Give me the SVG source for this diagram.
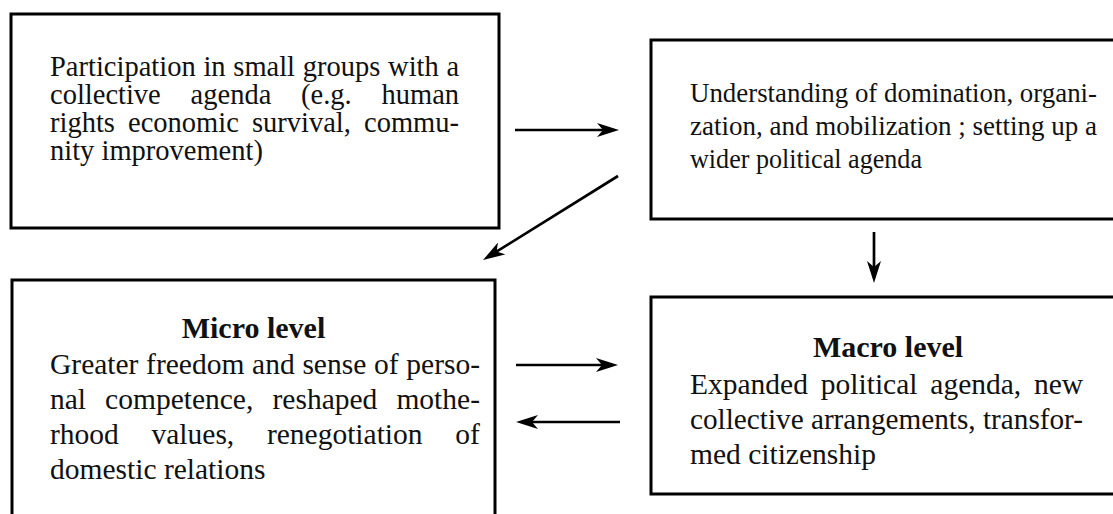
<svg xmlns="http://www.w3.org/2000/svg" width="1113" height="514" viewBox="0 0 1113 514">
<style>
.box{fill:#fff;stroke:#000;stroke-width:3}
.t{font-family:"Liberation Serif","Times New Roman",serif;fill:#111;font-size:29.5px}
.t1{font-size:28.5px}
.t2{font-size:27.5px}
.b{font-weight:bold;font-size:30px;text-anchor:middle}
.c{stroke:#000;stroke-width:2.7;fill:none;marker-end:url(#ah)}
</style>
<defs>
<marker id="ah" markerUnits="userSpaceOnUse" markerWidth="22" markerHeight="14" refX="10" refY="7" orient="auto">
<path d="M0,0 L22,7 L0,14 L6,7 Z" fill="#000"/>
</marker>
</defs>
<rect width="1113" height="514" fill="#fff"/>
<g id="n1">
<rect class="box" x="11" y="14" width="488" height="214"/>
<text class="t t1" y="76"><tspan x="50">Participation</tspan><tspan x="203.4">in</tspan><tspan x="233.3">small</tspan><tspan x="302.8">groups</tspan><tspan x="388.1">with</tspan><tspan x="446.5">a</tspan></text>
<text class="t t1" y="104"><tspan x="50">collective</tspan><tspan x="190.6">agenda</tspan><tspan x="301.1">(e.g.</tspan><tspan x="381.5">human</tspan></text>
<text class="t t1" y="132"><tspan x="50">rights</tspan><tspan x="128">economic</tspan><tspan x="251.9">survival,</tspan><tspan x="364">commu-</tspan></text>
<text class="t t1" x="50" y="160">nity improvement)</text>
</g>
<g id="n2">
<rect class="box" x="651" y="40" width="480" height="179"/>
<text class="t t2" x="690" y="102" textLength="407" lengthAdjust="spacingAndGlyphs">Understanding of domination, organi-</text>
<text class="t t2" x="690" y="135" textLength="407" lengthAdjust="spacingAndGlyphs">zation, and mobilization ; setting up a</text>
<text class="t t2" x="690" y="168" textLength="232" lengthAdjust="spacingAndGlyphs">wider political agenda</text>
</g>
<g id="n3">
<rect class="box" x="12" y="280" width="483" height="260"/>
<text class="t b" x="253.5" y="338">Micro level</text>
<text class="t" y="374"><tspan x="50">Greater</tspan><tspan x="146.1">freedom</tspan><tspan x="252.1">and</tspan><tspan x="302.4">sense</tspan><tspan x="374">of</tspan><tspan x="406.3">perso-</tspan></text>
<text class="t" y="409"><tspan x="50">nal</tspan><tspan x="105.1">competence,</tspan><tspan x="272.5">reshaped</tspan><tspan x="396.4">mothe-</tspan></text>
<text class="t" y="444"><tspan x="50">rhood</tspan><tspan x="151.5">values,</tspan><tspan x="266.9">renegotiation</tspan><tspan x="455.3">of</tspan></text>
<text class="t" x="50" y="479">domestic relations</text>
</g>
<g id="n4">
<rect class="box" x="651" y="297" width="480" height="197"/>
<text class="t b" x="888" y="357">Macro level</text>
<text class="t" y="394"><tspan x="690">Expanded</tspan><tspan x="820.8">political</tspan><tspan x="930.3">agenda,</tspan><tspan x="1034">new</tspan></text>
<text class="t" x="690" y="429" textLength="393" lengthAdjust="spacingAndGlyphs">collective arrangements, transfor-</text>
<text class="t" x="690" y="464">med citizenship</text>
</g>
<g id="connectors">
<line class="c" x1="515" y1="130" x2="607" y2="130"/>
<line class="c" x1="618" y1="176" x2="493.2" y2="253.7"/>
<line class="c" x1="874" y1="232" x2="874" y2="271"/>
<line class="c" x1="516" y1="365" x2="606" y2="365"/>
<line class="c" x1="620" y1="422" x2="528" y2="422"/>
</g>
</svg>
